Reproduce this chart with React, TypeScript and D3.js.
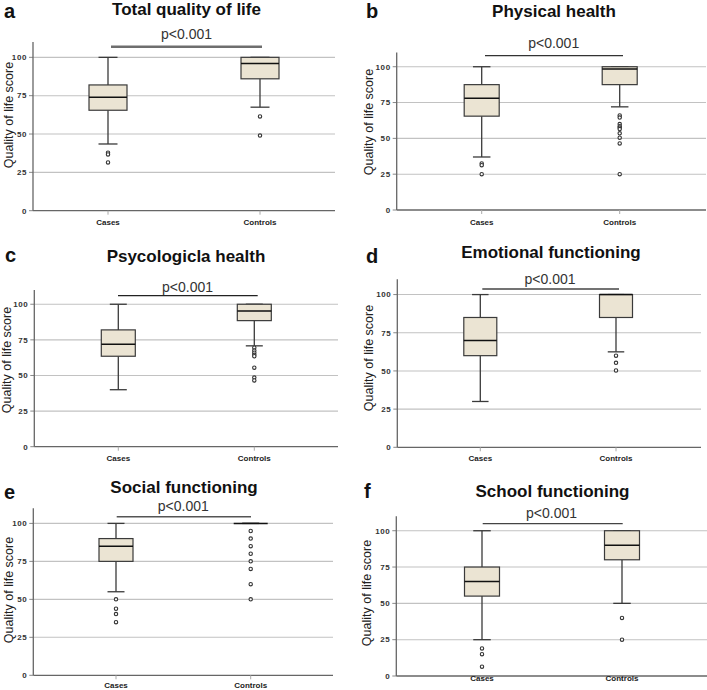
import React from 'react';
import * as d3 from 'd3';

const categories = ["Cases", "Controls"];
const panelLetters = ["a", "b", "c", "d", "e", "f"];
const panelTitles = [
  "Total quality of life",
  "Physical health",
  "Psycologicla health",
  "Emotional functioning",
  "Social functioning",
  "School functioning",
];
const pLabels = ["p<0.001", "p<0.001", "p<0.001", "p<0.001", "p<0.001", "p<0.001"];
const yTicks = [0, 25, 50, 75, 100];
const yLabel = "Quality of life score";

// [lower whisker, Q1, median, Q3, upper whisker]
const casesBoxes = [
  [43.5, 65.5, 74, 82, 100],
  [37, 65.5, 78, 87.5, 100],
  [40, 63.5, 72, 82, 100],
  [30, 60, 70, 85, 100],
  [55, 75, 85, 90, 100],
  [25, 55, 65, 75, 100],
];
const controlsBoxes = [
  [67.5, 86, 96, 100, 100],
  [72, 87.5, 98.5, 100, 100],
  [70.8, 88.5, 95.3, 100, 100],
  [62.5, 85, 100, 100, 100],
  [100, 100, 100, 100, 100],
  [50, 80, 90, 100, 100],
];
const casesOutliers = [
  [37.8, 36.7, 31.5],
  [32.5, 31.3, 25],
  [],
  [],
  [50, 43.8, 40.3, 35],
  [19, 15, 6.4],
];
const controlsOutliers = [
  [61.5, 49],
  [66, 64.5, 60, 58.5, 57.5, 56.5, 53.5, 50.5, 46.5, 25],
  [69.5, 67.5, 66, 64.5, 63.5, 55.5, 48.5, 46.5],
  [60, 55.3, 50.3],
  [95, 90, 85, 80, 75, 70, 60, 50],
  [40, 25],
];

// panel geometry (pixels)
const layouts = [
  { left: 33, right: 335, top: 42, bottom: 210.7, xA: 108, xB: 260, boxW: 38, lx: 4, ly: 18, tx: 186.5, ty: 15, px: 186.5, py: 39, bry: 46.7, br0: 111, br1: 262, brW: 2.4, brC: "#6e6e6e", yx: 9, yy: 115, cy: 225 },
  { left: 396.7, right: 706, top: 52.4, bottom: 210, xA: 481.7, xB: 619.7, boxW: 35, lx: 366, ly: 18, tx: 554, ty: 16.5, px: 553.7, py: 48.3, bry: 55.7, br0: 485, br1: 623, brW: 1.2, brC: "#333", yx: 369, yy: 122, cy: 225 },
  { left: 34.3, right: 338, top: 290, bottom: 446.7, xA: 118.3, xB: 254.3, boxW: 34, lx: 5, ly: 262, tx: 186, ty: 261.7, px: 187.5, py: 291.7, bry: 295.7, br0: 118, br1: 257.7, brW: 1.2, brC: "#222", yx: 7, yy: 360, cy: 461 },
  { left: 397.3, right: 701, top: 279.3, bottom: 447.3, xA: 480.3, xB: 616, boxW: 33, lx: 366, ly: 263, tx: 551, ty: 258.3, px: 550, py: 284, bry: 289, br0: 482.3, br1: 619, brW: 1.3, brC: "#444", yx: 369, yy: 358, cy: 461 },
  { left: 33.3, right: 333, top: 508.2, bottom: 675.3, xA: 116, xB: 250.7, boxW: 34, lx: 4, ly: 499, tx: 184, ty: 492.7, px: 183.3, py: 510.7, bry: 516.7, br0: 116.7, br1: 251, brW: 1.5, brC: "#555", yx: 9, yy: 590, cy: 688 },
  { left: 396.3, right: 707, top: 516.2, bottom: 676, xA: 482, xB: 622, boxW: 35, lx: 364, ly: 498, tx: 552.5, ty: 496.7, px: 551.5, py: 518.3, bry: 523.7, br0: 482.7, br1: 622.7, brW: 1.3, brC: "#444", yx: 367, yy: 593, cy: 680.5 },
];

const FONT = "'Liberation Sans', Arial, Helvetica, sans-serif";
const BOX_FILL = "#ebe4d3";
const INK = "#3a3a3a";

const BoxPlot: React.FC<{ stats: number[]; outliers: number[]; x: number; w: number; y: d3.ScaleLinear<number, number> }> = ({ stats, outliers, x, w, y }) => {
  const [lo, q1, med, q3, hi] = stats;
  const cap = w / 2;
  return (
    <g>
      <line x1={x} x2={x} y1={y(hi)} y2={y(q3)} stroke={INK} strokeWidth={1.3} />
      <line x1={x} x2={x} y1={y(q1)} y2={y(lo)} stroke={INK} strokeWidth={1.3} />
      <line x1={x - cap / 2} x2={x + cap / 2} y1={y(hi)} y2={y(hi)} stroke={INK} strokeWidth={1.3} />
      <line x1={x - cap / 2} x2={x + cap / 2} y1={y(lo)} y2={y(lo)} stroke={INK} strokeWidth={1.3} />
      <rect x={x - w / 2} y={y(q3)} width={w} height={Math.max(0, y(q1) - y(q3))} fill={BOX_FILL} stroke={INK} strokeWidth={1.2} />
      <line x1={x - w / 2} x2={x + w / 2} y1={y(med)} y2={y(med)} stroke="#111" strokeWidth={1.5} />
      {outliers.map((v, i) => (
        <circle key={i} cx={x} cy={y(v)} r={1.7} fill="#fff" stroke="#333" strokeWidth={1.1} />
      ))}
    </g>
  );
};

const Panel: React.FC<{ i: number }> = ({ i }) => {
  const L = layouts[i];
  const y = d3.scaleLinear().domain([0, 110]).range([L.bottom, L.top]);
  const x = d3.scalePoint<string>().domain(categories).range([L.xA, L.xB]);
  return (
    <g fontFamily={FONT}>
      <text x={L.lx} y={L.ly} fontSize={20} fontWeight="bold" fill="#111">{panelLetters[i]}</text>
      <text x={L.tx} y={L.ty} fontSize={17} fontWeight="bold" textAnchor="middle" fill="#111">{panelTitles[i]}</text>
      {yTicks.filter(t => t > 0).map(t => (
        <line key={t} x1={L.left} x2={L.right} y1={y(t)} y2={y(t)} stroke="#c2c2c2" strokeWidth={1.1} />
      ))}
      {yTicks.map(t => (
        <g key={t}>
          <line x1={L.left - 4} x2={L.left} y1={y(t)} y2={y(t)} stroke="#888" strokeWidth={1} />
          <text x={L.left - 6} y={y(t)} dy="0.35em" fontSize={8} fontWeight="bold" textAnchor="end" fill="#333" letterSpacing={0.6}>{t}</text>
        </g>
      ))}
      <line x1={L.left} x2={L.left} y1={L.bottom} y2={L.top} stroke="#666" strokeWidth={1.3} />
      <line x1={L.left} x2={L.right} y1={L.bottom} y2={L.bottom} stroke="#666" strokeWidth={1.3} />
      {categories.map(c => (
        <g key={c}>
          <line x1={x(c)!} x2={x(c)!} y1={L.bottom} y2={L.bottom + 4} stroke="#aaa" strokeWidth={1} />
          <text x={x(c)!} y={L.cy} fontSize={8} fontWeight="bold" textAnchor="middle" fill="#222">{c}</text>
        </g>
      ))}
      <text transform={`translate(${L.yx},${L.yy}) rotate(-90)`} dy="0.35em" fontSize={12.5} textAnchor="middle" fill="#222">{yLabel}</text>
      <BoxPlot stats={casesBoxes[i]} outliers={casesOutliers[i]} x={x(categories[0])!} w={L.boxW} y={y} />
      <BoxPlot stats={controlsBoxes[i]} outliers={controlsOutliers[i]} x={x(categories[1])!} w={L.boxW} y={y} />
      <line x1={L.br0} x2={L.br1} y1={L.bry} y2={L.bry} stroke={L.brC} strokeWidth={L.brW} />
      <text x={L.px} y={L.py} fontSize={14} textAnchor="middle" fill="#333">{pLabels[i]}</text>
    </g>
  );
};

export default function App() {
  return (
    <svg width={707} height={690} style={{ position: 'absolute', left: 0, top: 0, background: '#fff' }}>
      <rect width={707} height={690} fill="#fff" />
      {layouts.map((_, i) => <Panel key={i} i={i} />)}
    </svg>
  );
}
